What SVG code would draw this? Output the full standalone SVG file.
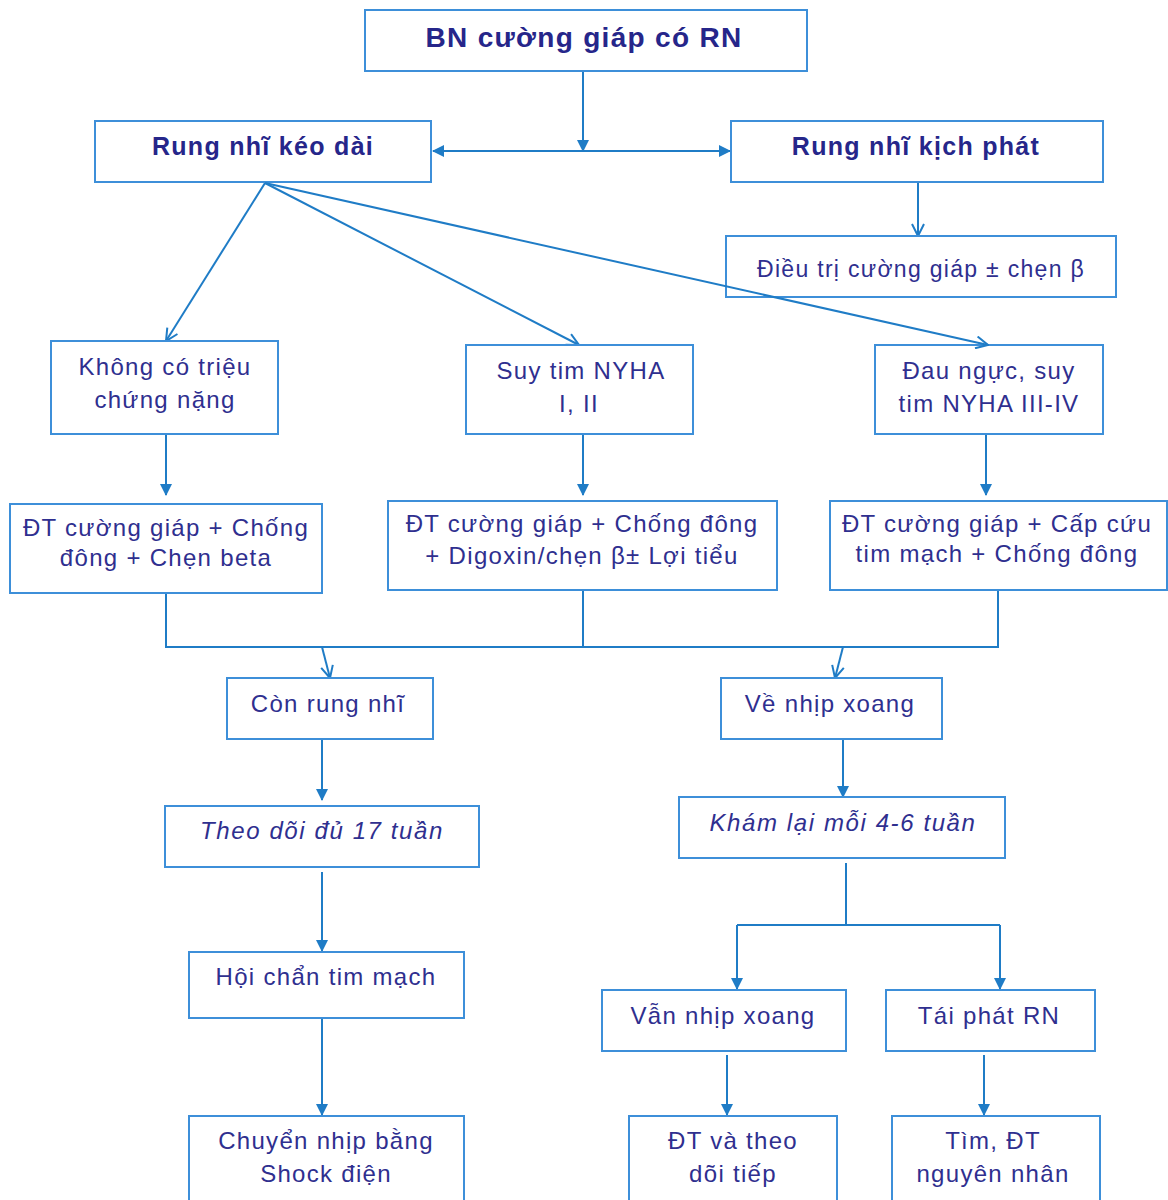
<svg xmlns="http://www.w3.org/2000/svg" width="1168" height="1200" viewBox="0 0 1168 1200">
  <style>
    .box { fill: #ffffff; stroke: #3d8fd9; stroke-width: 2; }
    .t { font-family: "Liberation Sans", Arial, sans-serif; font-size: 24px; fill: #2f2f8f; text-anchor: middle; letter-spacing: 1.3px; }
    .b { font-weight: bold; font-size: 25px; fill: #26268a; }
    .i { font-style: italic; letter-spacing: 1.6px; }
    .ln { fill: none; stroke: #1f7cc6; stroke-width: 2; }
    .fa { marker-end: url(#solid); }
    .oa { marker-end: url(#open); }
  </style>
  <defs>
    <marker id="solid" viewBox="0 0 12 12" refX="11" refY="6" markerWidth="12" markerHeight="12" markerUnits="userSpaceOnUse" orient="auto">
      <path d="M0,0 L12,6 L0,12 Z" fill="#1f7cc6"/>
    </marker>
    <marker id="solidStart" viewBox="0 0 12 12" refX="1" refY="6" markerWidth="12" markerHeight="12" markerUnits="userSpaceOnUse" orient="auto">
      <path d="M12,0 L0,6 L12,12 Z" fill="#1f7cc6"/>
    </marker>
    <marker id="open" viewBox="0 0 14 14" refX="13" refY="7" markerWidth="14" markerHeight="14" markerUnits="userSpaceOnUse" orient="auto">
      <path d="M1,1 L13,7 L1,13" fill="none" stroke="#1f7cc6" stroke-width="2"/>
    </marker>
  </defs>

  <!-- connectors -->
  <g id="connectors">
    <line class="ln fa" x1="583" y1="71" x2="583" y2="151"/>
    <line class="ln" x1="433" y1="151" x2="730" y2="151" marker-start="url(#solidStart)" marker-end="url(#solid)"/>
    <line class="ln oa" x1="265" y1="183" x2="166" y2="341"/>
    <line class="ln oa" x1="265" y1="183" x2="579" y2="345"/>
    <line class="ln oa" x1="918" y1="182" x2="918" y2="236"/>
    <line class="ln fa" x1="166" y1="434" x2="166" y2="495"/>
    <line class="ln fa" x1="583" y1="434" x2="583" y2="495"/>
    <line class="ln fa" x1="986" y1="434" x2="986" y2="495"/>
    <polyline class="ln" points="166,593 166,647 998,647 998,590"/>
    <line class="ln" x1="583" y1="590" x2="583" y2="647"/>
    <line class="ln oa" x1="322" y1="647" x2="330" y2="678"/>
    <line class="ln oa" x1="843" y1="647" x2="835" y2="678"/>
    <line class="ln fa" x1="322" y1="739" x2="322" y2="800"/>
    <line class="ln fa" x1="843" y1="739" x2="843" y2="797"/>
    <line class="ln fa" x1="322" y1="872" x2="322" y2="951"/>
    <line class="ln fa" x1="322" y1="1018" x2="322" y2="1115"/>
    <line class="ln" x1="846" y1="863" x2="846" y2="925"/>
    <line class="ln" x1="737" y1="925" x2="1000" y2="925"/>
    <line class="ln fa" x1="737" y1="925" x2="737" y2="989"/>
    <line class="ln fa" x1="1000" y1="925" x2="1000" y2="989"/>
    <line class="ln fa" x1="727" y1="1055" x2="727" y2="1115"/>
    <line class="ln fa" x1="984" y1="1055" x2="984" y2="1115"/>
  </g>

  <!-- nodes -->
  <g id="n-start">
    <rect class="box" x="365" y="10" width="442" height="61"/>
    <text class="t b" x="584" y="47" style="font-size:28px">BN cường giáp có RN</text>
  </g>
  <g id="n-keo-dai">
    <rect class="box" x="95" y="121" width="336" height="61"/>
    <text class="t b" x="263" y="155">Rung nhĩ kéo dài</text>
  </g>
  <g id="n-kich-phat">
    <rect class="box" x="731" y="121" width="372" height="61"/>
    <text class="t b" x="916" y="155">Rung nhĩ kịch phát</text>
  </g>
  <g id="n-dieu-tri">
    <rect class="box" x="726" y="236" width="390" height="61"/>
    <text class="t" x="921" y="277" style="font-size:23px">Điều trị cường giáp ± chẹn β</text>
  </g>
  <g id="n-khong-tc">
    <rect class="box" x="51" y="341" width="227" height="93"/>
    <text class="t" x="165" y="375">Không có triệu</text>
    <text class="t" x="165" y="408">chứng nặng</text>
  </g>
  <g id="n-suy-tim-12">
    <rect class="box" x="466" y="345" width="227" height="89"/>
    <text class="t" x="581" y="379">Suy tim NYHA</text>
    <text class="t" x="579" y="412">I, II</text>
  </g>
  <g id="n-suy-tim-34">
    <rect class="box" x="875" y="345" width="228" height="89"/>
    <text class="t" x="989" y="379">Đau ngực, suy</text>
    <text class="t" x="989" y="412">tim NYHA III-IV</text>
  </g>
  <g id="n-dt-1">
    <rect class="box" x="10" y="504" width="312" height="89"/>
    <text class="t" x="166" y="536">ĐT cường giáp + Chống</text>
    <text class="t" x="166" y="566">đông + Chẹn beta</text>
  </g>
  <g id="n-dt-2">
    <rect class="box" x="388" y="501" width="389" height="89"/>
    <text class="t" x="582" y="532">ĐT cường giáp + Chống đông</text>
    <text class="t" x="582" y="564">+ Digoxin/chẹn β± Lợi tiểu</text>
  </g>
  <g id="n-dt-3">
    <rect class="box" x="830" y="501" width="337" height="89"/>
    <text class="t" x="997" y="532">ĐT cường giáp + Cấp cứu</text>
    <text class="t" x="997" y="562">tim mạch + Chống đông</text>
  </g>
  <g id="n-con-rn">
    <rect class="box" x="227" y="678" width="206" height="61"/>
    <text class="t" x="328" y="712">Còn rung nhĩ</text>
  </g>
  <g id="n-ve-nhip">
    <rect class="box" x="721" y="678" width="221" height="61"/>
    <text class="t" x="830" y="712">Về nhịp xoang</text>
  </g>
  <g id="n-theo-doi">
    <rect class="box" x="165" y="806" width="314" height="61"/>
    <text class="t i" x="322" y="839">Theo dõi đủ 17 tuần</text>
  </g>
  <g id="n-kham-lai">
    <rect class="box" x="679" y="797" width="326" height="61"/>
    <text class="t i" x="843" y="831">Khám lại mỗi 4-6 tuần</text>
  </g>
  <g id="n-hoi-chan">
    <rect class="box" x="189" y="952" width="275" height="66"/>
    <text class="t" x="326" y="985">Hội chẩn tim mạch</text>
  </g>
  <g id="n-shock">
    <rect class="box" x="189" y="1116" width="275" height="100"/>
    <text class="t" x="326" y="1149">Chuyển nhịp bằng</text>
    <text class="t" x="326" y="1182">Shock điện</text>
  </g>
  <g id="n-van-nhip">
    <rect class="box" x="602" y="990" width="244" height="61"/>
    <text class="t" x="723" y="1024">Vẫn nhịp xoang</text>
  </g>
  <g id="n-tai-phat">
    <rect class="box" x="886" y="990" width="209" height="61"/>
    <text class="t" x="989" y="1024">Tái phát RN</text>
  </g>
  <g id="n-dt-tiep">
    <rect class="box" x="629" y="1116" width="208" height="100"/>
    <text class="t" x="733" y="1149">ĐT và theo</text>
    <text class="t" x="733" y="1182">dõi tiếp</text>
  </g>
  <g id="n-nguyen-nhan">
    <rect class="box" x="892" y="1116" width="208" height="100"/>
    <text class="t" x="993" y="1149">Tìm, ĐT</text>
    <text class="t" x="993" y="1182">nguyên nhân</text>
  </g>

  <!-- long diagonal drawn on top of the treatment box -->
  <g id="connectors-over">
    <line class="ln oa" x1="265" y1="183" x2="988" y2="345"/>
  </g>
</svg>
